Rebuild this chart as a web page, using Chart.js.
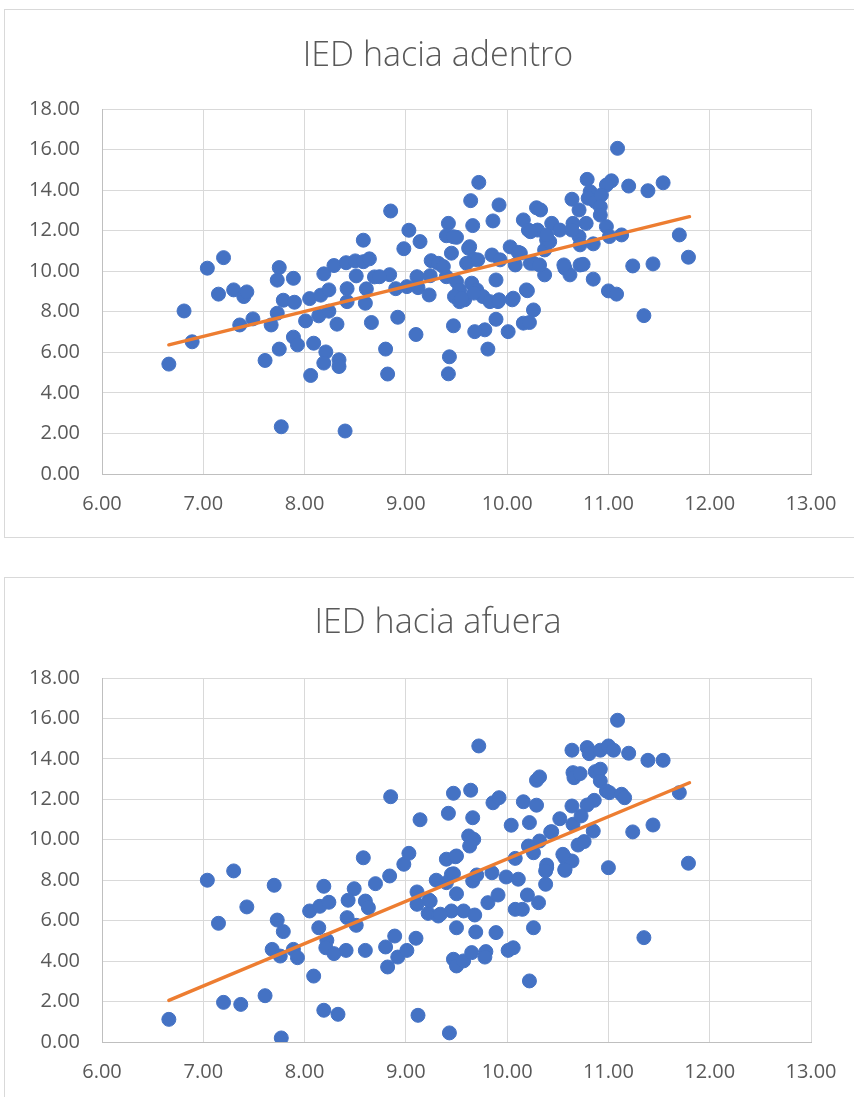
<!DOCTYPE html>
<html>
<head>
<meta charset="utf-8">
<script src="https://cdn.jsdelivr.net/npm/chart.js@4.4.1/dist/chart.umd.min.js"></script>
<style>
    html, body { margin: 0; padding: 0; background: #fff; overflow: hidden; width: 854px; height: 1097px; }
    .frame { position: absolute; left: 4px; width: 880px; height: 527px; border: 1px solid #d9d9d9; background: #fff; }
    #frameIn { top: 9px; }
    #frameOut { top: 577px; }
    canvas { display: block; }
</style>
</head>
<body>
<div class="frame" id="frameIn"><canvas id="chartIn" width="880" height="527"></canvas></div>
<div class="frame" id="frameOut"><canvas id="chartOut" width="880" height="527"></canvas></div>
<script>
// Titles
const titleIn = 'IED hacia adentro';
const titleOut = 'IED hacia afuera';

// Axis ranges (ticks every 1.00 on x, every 2.00 on y)
const xRange = [6, 13];
const yRange = [0, 18];

// IED hacia adentro - scatter values
const xIn = [6.66, 6.81, 6.89, 7.04, 7.20, 7.15, 7.30, 7.40, 7.43, 7.36, 7.49, 7.61, 7.75, 7.73, 7.89, 7.79, 7.90, 7.73, 7.67, 7.75,
    7.89, 7.93, 7.77, 8.01, 8.05, 8.16, 8.24, 8.14, 8.24, 8.19, 8.29, 8.41, 8.50, 8.58, 8.64, 8.58, 8.51, 8.42, 8.42, 8.61,
    8.60, 8.69, 8.32, 8.09, 8.06, 8.21, 8.19, 8.34, 8.34, 8.40, 8.66, 8.80, 8.82, 8.85, 8.84, 8.90, 8.92, 9.03, 8.98, 9.14,
    9.01, 9.12, 9.11, 9.24, 9.23, 9.25, 9.42, 9.40, 9.45, 9.10, 9.43, 9.42, 9.47, 9.72, 9.64, 9.92, 9.86, 9.66, 9.50, 9.62,
    9.67, 9.60, 9.85, 10.03, 10.11, 10.08, 9.93, 10.16, 10.29, 10.33, 10.21, 10.30, 10.44, 10.52, 10.39, 10.37, 10.26, 10.57, 10.62, 10.37,
    10.64, 10.65, 9.40, 9.50, 9.53, 9.48, 9.53, 9.65, 9.70, 9.76, 9.83, 9.89, 9.91, 10.06, 10.19, 10.26, 10.16, 10.22, 10.01, 9.89,
    9.78, 9.68, 9.81, 10.71, 10.72, 11.09, 10.79, 11.03, 10.98, 11.20, 11.39, 11.54, 10.82, 10.80, 10.87, 10.93, 10.92, 10.71, 10.92, 10.78,
    10.64, 10.98, 11.01, 11.13, 10.72, 10.85, 11.70, 11.79, 10.75, 10.85, 11.24, 11.44, 11.00, 11.08, 11.35, 9.47, 9.63, 9.71, 9.58, 9.67,
    9.92, 10.05, 10.20, 10.13, 10.23, 10.32, 10.42, 10.39, 10.23, 10.56, 9.55, 9.32, 9.37, 8.74];
const yIn = [5.42, 8.04, 6.52, 10.15, 10.67, 8.87, 9.08, 8.75, 8.98, 7.35, 7.65, 5.60, 10.18, 9.56, 9.65, 8.57, 8.47, 7.93, 7.35, 6.16,
    6.75, 6.37, 2.33, 7.55, 8.65, 8.82, 9.08, 7.80, 8.03, 9.87, 10.28, 10.42, 10.51, 10.47, 10.61, 11.53, 9.77, 9.14, 8.50, 9.13,
    8.42, 9.72, 7.39, 6.45, 4.86, 6.02, 5.47, 5.63, 5.30, 2.12, 7.47, 6.16, 4.93, 12.97, 9.83, 9.14, 7.73, 12.02, 11.11, 11.46,
    9.24, 9.19, 9.73, 9.78, 8.83, 10.52, 12.36, 11.75, 10.89, 6.88, 5.78, 4.94, 7.31, 14.38, 13.48, 13.27, 12.48, 12.25, 11.67, 11.13,
    10.59, 10.39, 10.80, 11.20, 10.93, 10.31, 10.56, 12.53, 13.13, 13.02, 12.03, 12.03, 12.36, 12.03, 11.54, 11.05, 10.39, 10.15, 9.82, 9.82,
    13.55, 12.36, 9.73, 9.49, 9.08, 8.75, 8.50, 9.41, 9.08, 8.75, 8.50, 9.57, 8.50, 8.67, 9.08, 8.09, 7.44, 7.47, 7.02, 7.63,
    7.11, 7.02, 6.16, 11.71, 10.31, 16.06, 14.53, 14.46, 14.25, 14.20, 13.97, 14.36, 13.92, 13.60, 13.43, 13.76, 13.18, 13.02, 12.77, 12.36,
    12.03, 12.20, 11.71, 11.79, 11.30, 11.35, 11.79, 10.69, 10.34, 9.61, 10.26, 10.36, 9.03, 8.87, 7.81, 11.70, 11.21, 10.56, 8.59, 8.92,
    8.59, 8.59, 9.04, 10.89, 10.39, 10.31, 11.46, 11.79, 11.95, 10.31, 8.65, 10.39, 10.23, 9.73];

// IED hacia afuera - scatter values
const xOut = [6.66, 7.04, 7.30, 7.15, 7.43, 7.20, 7.37, 7.61, 7.70, 7.73, 7.79, 7.68, 7.76, 7.89, 7.93, 7.77, 8.09, 8.05, 8.15, 8.24,
    8.19, 8.14, 8.22, 8.21, 8.29, 8.41, 8.19, 8.33, 8.49, 8.43, 8.42, 8.51, 8.60, 8.63, 8.60, 8.58, 8.70, 8.84, 8.85, 8.80,
    8.82, 8.89, 8.92, 9.01, 8.98, 9.03, 9.14, 9.12, 9.11, 9.11, 9.23, 9.22, 9.32, 9.10, 9.30, 9.40, 9.49, 9.42, 9.47, 9.45,
    9.45, 9.50, 9.47, 9.50, 9.43, 9.50, 9.72, 9.64, 9.66, 9.86, 9.92, 10.16, 10.29, 10.29, 10.32, 10.64, 10.65, 10.66, 10.64, 10.52,
    10.22, 10.04, 10.65, 10.43, 10.32, 10.21, 10.26, 10.08, 9.62, 9.67, 9.63, 9.40, 9.47, 9.66, 9.70, 9.85, 9.99, 10.11, 10.39, 10.38,
    10.57, 10.57, 10.64, 9.24, 9.57, 9.68, 9.69, 9.81, 9.91, 10.08, 10.15, 10.20, 10.31, 9.89, 10.26, 9.57, 9.65, 9.79, 9.78, 10.01,
    10.06, 10.22, 11.09, 10.79, 10.81, 10.92, 11.00, 11.05, 11.20, 11.39, 11.54, 10.72, 10.87, 10.92, 10.92, 10.98, 11.01, 11.13, 11.16, 11.70,
    10.86, 10.79, 10.73, 10.85, 11.24, 11.44, 10.70, 10.76, 10.55, 11.00, 11.79, 11.35, 10.39, 10.38, 10.57, 9.34, 9.50, 10.44];
const yOut = [1.12, 8.00, 8.46, 5.87, 6.68, 1.96, 1.86, 2.29, 7.75, 6.03, 5.46, 4.58, 4.25, 4.58, 4.17, 0.20, 3.26, 6.48, 6.71, 6.91,
    7.70, 5.65, 5.03, 4.66, 4.37, 4.53, 1.57, 1.37, 7.58, 7.01, 6.15, 5.77, 6.97, 6.64, 4.53, 9.11, 7.83, 8.21, 12.13, 4.70,
    3.71, 5.24, 4.20, 4.53, 8.79, 9.33, 10.99, 1.32, 7.42, 6.81, 7.02, 6.36, 6.23, 5.13, 8.00, 9.04, 9.16, 11.31, 12.30, 8.29,
    6.48, 5.65, 4.09, 3.76, 0.45, 7.33, 14.64, 12.45, 11.09, 11.83, 12.08, 11.88, 11.71, 12.94, 13.11, 14.43, 13.32, 13.07, 11.67, 11.04,
    10.85, 10.72, 10.77, 10.39, 9.94, 9.69, 9.36, 9.08, 10.19, 10.02, 9.69, 7.88, 8.32, 7.96, 8.26, 8.37, 8.16, 8.05, 8.62, 7.80,
    9.11, 8.54, 8.95, 6.97, 6.48, 6.28, 5.44, 6.89, 7.27, 6.56, 6.56, 7.27, 6.89, 5.41, 5.65, 4.01, 4.42, 4.47, 4.20, 4.53,
    4.66, 3.02, 15.91, 14.56, 14.26, 14.43, 14.64, 14.43, 14.28, 13.93, 13.93, 13.27, 13.37, 13.49, 12.91, 12.41, 12.33, 12.25, 12.08, 12.33,
    11.95, 11.72, 11.18, 10.43, 10.39, 10.73, 9.74, 9.91, 9.28, 8.62, 8.84, 5.16, 8.75, 8.46, 8.49, 6.32, 9.20, 10.40];

// Linear trend lines (end points)
const trendX = [6.66, 11.80];
const trendIn = [6.37, 12.69];
const trendOut = [2.06, 12.82];

// Styling
const BLUE = '#4472C4';
const ORANGE = '#ED7D31';
const TEXT = '#595959';
const GRID = '#d9d9d9';

Chart.defaults.font.family = "'Open Sans', 'Noto Sans', sans-serif";
Chart.defaults.color = TEXT;

// Excel centres the title a bit left of the canvas middle, so draw it ourselves
const excelTitle = {
    id: 'excelTitle',
    afterDraw(chart, args, opts) {
        const ctx = chart.ctx;
        ctx.save();
        ctx.font = "300 34px 'Open Sans', 'Noto Sans', sans-serif";
        ctx.fillStyle = TEXT;
        ctx.textAlign = 'center';
        ctx.textBaseline = 'middle';
        ctx.fillText(opts.text, opts.x, opts.y);
        ctx.restore();
    }
};

function toPoints(xs, ys) {
    return xs.map((x, i) => ({ x: x, y: ys[i] }));
}

function buildChart(canvasId, title, xs, ys, trendYs, topPad, titleY) {
    const ctx = document.getElementById(canvasId);
    return new Chart(ctx, {
        type: 'scatter',
        data: {
            datasets: [
                {
                    label: 'Tendencia',
                    data: toPoints(trendX, trendYs),
                    showLine: true,
                    borderColor: ORANGE,
                    borderWidth: 3.5,
                    pointRadius: 0,
                    borderCapStyle: 'round',
                    order: 1
                },
                {
                    label: title,
                    data: toPoints(xs, ys),
                    backgroundColor: BLUE,
                    borderColor: BLUE,
                    borderWidth: 1,
                    pointRadius: 7,
                    order: 2
                }
            ]
        },
        plugins: [excelTitle],
        options: {
            responsive: false,
            animation: false,
            layout: { padding: { left: 0, right: 74, top: topPad, bottom: 0 } },
            plugins: {
                legend: { display: false },
                tooltip: { enabled: false },
                title: { display: false },
                excelTitle: { text: title, x: 433, y: titleY }
            },
            scales: {
                x: {
                    type: 'linear',
                    min: xRange[0],
                    max: xRange[1],
                    ticks: {
                        stepSize: 1,
                        padding: 18,
                        font: { size: 20 },
                        color: TEXT,
                        callback: v => v.toFixed(2)
                    },
                    grid: { color: GRID, lineWidth: 1, drawTicks: false },
                    border: { color: '#bfbfbf', width: 1 },
                    afterFit: scale => { scale.height = 63; }
                },
                y: {
                    type: 'linear',
                    min: yRange[0],
                    max: yRange[1],
                    ticks: {
                        stepSize: 2,
                        padding: 22,
                        font: { size: 20 },
                        color: TEXT,
                        callback: v => v.toFixed(2)
                    },
                    grid: { color: GRID, lineWidth: 1, drawTicks: false },
                    border: { color: '#bfbfbf', width: 1 },
                    afterFit: scale => { scale.width = 97; }
                }
            }
        }
    });
}

buildChart('chartIn', titleIn, xIn, yIn, trendIn, 99, 46);
buildChart('chartOut', titleOut, xOut, yOut, trendOut, 100, 45);
</script>
</body>
</html>
